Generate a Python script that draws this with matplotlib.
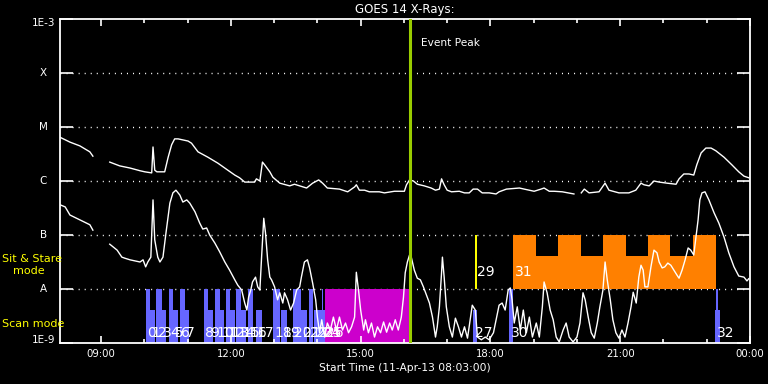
import numpy as np
import matplotlib
matplotlib.use('Agg')
import matplotlib.pyplot as plt

nan = np.nan

# GOES 14 long channel (1-8 A): clock hours on 11-Apr-13, log10 flux (W/m^2)
long_time = [8.05, 8.28, 8.51, 8.74, 8.81, nan,
             9.20, 9.43, 9.67, 9.90, 10.01, 10.17, 10.20, 10.24, 10.29, 10.47,
             10.55, 10.63, 10.70, 10.78, 11.01, 11.09, 11.24, 11.47, 11.70, 11.93,
             12.09, 12.20, 12.32, 12.43, 12.55, 12.59, 12.67, 12.73, 12.78, 12.90,
             12.97, 13.13, 13.36, 13.47, 13.59, 13.75, 13.89, 14.03, 14.12, 14.23,
             14.51, 14.70, 14.86, 14.90, 14.97, 15.09, 15.20, 15.43, 15.55, 15.78,
             15.90, 16.01, 16.06, 16.13, 16.22, 16.31, 16.47, 16.63, 16.73, 16.82,
             16.87, 16.93, 17.00, 17.10, 17.28, 17.40, 17.51, 17.60, 17.70, 17.81,
             17.97, 18.13, 18.20, 18.37, 18.67, 18.78, 19.01, 19.17, 19.24, 19.36,
             19.47, 19.66, 19.93, nan,
             20.10, 20.17, 20.28, 20.51, 20.65, 20.74, 20.97, 21.20, 21.36, 21.48,
             21.55, 21.67, 21.78, 21.90, 22.08, 22.29, 22.36, 22.47, 22.59, 22.70,
             22.77, 22.87, 22.98, 23.10, 23.21, 23.40, 23.58, 23.74, 23.86, 23.97]
long_logflux = [-5.19, -5.28, -5.35, -5.46, -5.54, nan,
                -5.65, -5.72, -5.76, -5.81, -5.83, -5.85, -5.37, -5.80, -5.83, -5.83,
                -5.56, -5.33, -5.22, -5.22, -5.26, -5.30, -5.46, -5.56, -5.67, -5.80,
                -5.89, -5.94, -6.02, -6.02, -6.02, -5.96, -6.00, -5.65, -5.70, -5.83,
                -5.93, -6.04, -6.09, -6.06, -6.09, -6.13, -6.04, -5.98, -6.04, -6.13,
                -6.15, -6.20, -6.11, -6.07, -6.17, -6.17, -6.20, -6.20, -6.22, -6.19,
                -6.19, -6.19, -6.07, -5.98, -6.00, -6.06, -6.09, -6.13, -6.17, -6.15,
                -5.96, -6.07, -6.17, -6.20, -6.19, -6.22, -6.22, -6.15, -6.15, -6.22,
                -6.22, -6.24, -6.20, -6.15, -6.13, -6.15, -6.19, -6.15, -6.13, -6.19,
                -6.19, -6.20, -6.24, nan,
                -6.22, -6.15, -6.22, -6.20, -6.04, -6.17, -6.22, -6.22, -6.17, -6.04,
                -6.07, -6.09, -6.00, -6.02, -6.04, -6.06, -5.96, -5.87, -5.87, -5.89,
                -5.70, -5.48, -5.39, -5.39, -5.44, -5.56, -5.70, -5.83, -5.91, -5.94]

# GOES 14 short channel (0.5-4 A)
short_time = [8.05, 8.17, 8.28, 8.51, 8.74, 8.81, nan,
              9.20, 9.37, 9.48, 9.55, 9.67, 9.78, 9.90, 9.97, 10.03, 10.08,
              10.15, 10.20, 10.24, 10.31, 10.36, 10.43, 10.50, 10.59, 10.66, 10.73,
              10.82, 10.89, 10.98, 11.05, 11.17, 11.28, 11.35, 11.44, 11.51, 11.63,
              11.74, 11.86, 11.97, 12.09, 12.16, 12.25, 12.32, 12.37, 12.41, 12.46,
              12.50, 12.57, 12.62, 12.67, 12.71, 12.76, 12.80, 12.85, 12.90, 12.94,
              13.01, 13.08, 13.13, 13.20, 13.24, 13.31, 13.38, 13.45, 13.52, 13.59,
              13.63, 13.70, 13.77, 13.82, 13.89, 13.96, 14.00, 14.05, 14.10, 14.17,
              14.23, 14.30, 14.37, 14.44, 14.51, 14.58, 14.65, 14.72, 14.79, 14.86,
              14.90, 14.95, 15.00, 15.07, 15.11, 15.18, 15.25, 15.32, 15.39, 15.46,
              15.53, 15.60, 15.67, 15.73, 15.80, 15.87, 15.94, 15.99, 16.03, 16.08,
              16.13, 16.17, 16.24, 16.31, 16.38, 16.45, 16.52, 16.59, 16.66, 16.73,
              16.77, 16.82, 16.87, 16.89, 16.93, 16.98, 17.05, 17.12, 17.19, 17.26,
              17.33, 17.40, 17.47, 17.54, 17.58, 17.65, 17.70, 17.79, 17.88, 17.97,
              18.07, 18.13, 18.20, 18.27, 18.34, 18.41, 18.46, 18.50, 18.55, 18.62,
              18.69, 18.76, 18.83, 18.90, 18.97, 19.06, 19.13, 19.20, 19.24, 19.31,
              19.38, 19.45, 19.52, 19.59, 19.68, 19.75, 19.82, 19.91, 20.00, 20.07,
              20.14, 20.19, 20.26, 20.33, 20.40, 20.47, 20.53, 20.60, 20.65, 20.70,
              20.77, 20.83, 20.90, 20.97, 21.04, 21.11, 21.18, 21.25, 21.30, 21.37,
              21.43, 21.48, 21.53, 21.57, 21.64, 21.71, 21.78, 21.85, 21.90, 21.97,
              22.03, 22.10, 22.17, 22.24, 22.31, 22.36, 22.43, 22.50, 22.57, 22.63,
              22.70, 22.75, 22.80, 22.84, 22.89, 22.96, 23.05, 23.17, 23.28, 23.40,
              23.51, 23.63, 23.74, 23.86, 23.93, 23.97]
short_logflux = [-6.44, -6.48, -6.63, -6.72, -6.81, -6.91, nan,
                 -7.17, -7.28, -7.41, -7.43, -7.46, -7.48, -7.50, -7.46, -7.59, -7.50,
                 -7.41, -6.35, -7.09, -7.41, -7.50, -7.41, -6.96, -6.41, -6.22, -6.17,
                 -6.26, -6.39, -6.35, -6.41, -6.57, -6.78, -6.89, -6.87, -7.00, -7.15,
                 -7.31, -7.50, -7.65, -7.83, -7.93, -8.02, -8.26, -8.39, -8.15, -8.02,
                 -7.87, -7.78, -7.96, -8.02, -7.41, -6.69, -6.96, -7.46, -7.78, -7.83,
                 -7.96, -8.20, -8.07, -8.26, -8.07, -8.20, -8.39, -8.26, -8.02, -7.96,
                 -7.78, -7.50, -7.46, -7.61, -7.89, -8.20, -8.52, -8.81, -8.57, -8.89,
                 -8.63, -8.76, -8.52, -8.76, -8.52, -8.76, -8.63, -8.81, -8.70, -8.52,
                 -7.69, -8.02, -8.39, -8.76, -8.57, -8.81, -8.63, -8.89, -8.70, -8.81,
                 -8.61, -8.80, -8.63, -8.76, -8.57, -8.76, -8.52, -8.15, -7.70, -7.50,
                 -7.37, -7.41, -7.65, -7.80, -7.83, -7.96, -8.11, -8.26, -8.52, -8.89,
                 -8.70, -8.33, -7.70, -7.41, -7.78, -8.33, -8.70, -8.89, -8.54, -8.70,
                 -8.89, -8.70, -8.91, -8.52, -8.30, -8.39, -8.89, -8.94, -8.89, -8.94,
                 -8.81, -8.57, -8.30, -8.26, -8.39, -8.02, -7.98, -8.20, -8.63, -8.33,
                 -8.76, -8.39, -8.81, -8.52, -8.89, -8.63, -8.89, -8.33, -7.87, -8.07,
                 -8.39, -8.57, -8.89, -8.98, -8.76, -8.63, -8.89, -8.98, -8.89, -8.63,
                 -8.07, -8.20, -8.52, -8.81, -8.91, -8.63, -8.33, -8.02, -7.50, -7.83,
                 -8.20, -8.57, -8.81, -8.91, -8.76, -8.89, -8.63, -8.33, -8.06, -8.26,
                 -7.78, -7.56, -7.65, -7.96, -7.96, -7.59, -7.28, -7.33, -7.50, -7.61,
                 -7.59, -7.52, -7.56, -7.65, -7.74, -7.80, -7.65, -7.46, -7.24, -7.28,
                 -7.37, -7.04, -6.72, -6.35, -6.22, -6.20, -6.35, -6.59, -6.78, -7.04,
                 -7.33, -7.59, -7.76, -7.78, -7.85, -7.81]

# IRIS observations: number, start, end (clock hours), mode, full-height flag
obs_num = [0, 1, 2, 3, 4, 5, 6, 7,
           8, 9, 10, 11, 12, 13, 14, 15, 16, 17, 18, 19, 20, 21, 22, 23, 24, 25,
           26, 27, 29, 30,
           31, 31, 31, 31, 31, 31, 31, 31, 31,
           32, 32]
obs_start = [10.03, 10.14, 10.28, 10.40, 10.57, 10.67, 10.82, 10.93,
             11.37, 11.48, 11.63, 11.74, 11.88, 11.97, 12.12, 12.23, 12.39, 12.57,
             12.97, 13.15, 13.43, 13.63, 13.80, 13.93, 14.10, 14.13,
             14.17, 17.60, 17.65, 18.44,
             18.53, 19.06, 19.57, 20.10, 20.60, 21.14, 21.64, 22.15, 22.68,
             23.21, 23.19]
obs_end = [10.14, 10.24, 10.40, 10.50, 10.67, 10.78, 10.93, 11.03,
           11.48, 11.58, 11.74, 11.85, 11.97, 12.09, 12.23, 12.34, 12.50, 12.71,
           13.13, 13.29, 13.63, 13.75, 13.89, 14.10, 14.13, 14.17,
           16.13, 17.68, 17.70, 18.53,
           19.06, 19.57, 20.10, 20.60, 21.14, 21.64, 22.15, 22.68, 23.21,
           23.25, 23.30]
obs_mode = ['scan'] * 26 + ['scan', 'scan', 'stare', 'scan'] + ['stare'] * 9 + ['scan', 'scan']
obs_full = [True, False] * 13 + [True, False, True, True] + \
           [True, False, True, False, True, False, True, False, True] + [True, False]

event_peak = 16.14
goes_levels = [1e-9, 1e-8, 1e-7, 1e-6, 1e-5, 1e-4, 1e-3]
goes_names = ['1E-9', 'A', 'B', 'C', 'M', 'X', '1E-3']
hour_ticks = [9, 12, 15, 18, 21, 24]
hour_labels = ['09:00', '12:00', '15:00', '18:00', '21:00', '00:00']

obs_colors = {26: '#cc00cc', 29: '#ffff00', 31: '#ff8000'}
scan_blue = '#6666ff'

fig = plt.figure(figsize=(7.68, 3.84), dpi=100, facecolor='black')
ax = fig.add_axes([60 / 768, 41 / 384, 690 / 768, 324 / 384])
ax.set_facecolor('black')
ax.set_yscale('log')
ax.set_xlim(8.05, 24.0)
ax.set_ylim(1e-9, 1e-3)

# dotted level lines
for lvl in goes_levels[1:-1]:
    ax.axhline(lvl, color='white', lw=1.0, ls=(0, (0.75, 3.6)), zorder=0.5)

# observation blocks
labelled = set()
for n, s, e, mode, full in zip(obs_num, obs_start, obs_end, obs_mode, obs_full):
    lo = 1e-9 if mode == 'scan' else 1e-8
    hi = lo * 10 if full else lo * 10 ** 0.61
    ax.bar(s, hi - lo, width=e - s, bottom=lo, align='edge',
           color=obs_colors.get(n, scan_blue), linewidth=0, zorder=1)
    if n not in labelled:
        labelled.add(n)
        ylab = 10 ** -8.81 if mode == 'scan' else 10 ** -7.69
        ax.annotate(str(n), xy=(s, ylab), xytext=(1, 0), textcoords='offset points',
                    color='white', fontsize=10, ha='left', va='center', zorder=5)

ax.plot(long_time, 10 ** np.array(long_logflux), color='white', lw=1.0, zorder=3)
ax.plot(short_time, 10 ** np.array(short_logflux), color='white', lw=1.0, zorder=3)

ax.axvline(event_peak, color='#99cc00', lw=2.2, zorder=4)
ax.annotate('Event Peak', xy=(event_peak, 1e-3), xytext=(8, -17.5),
            textcoords='offset points', color='white', fontsize=7.6,
            ha='left', va='center')

for sp in ax.spines.values():
    sp.set_color('white')
    sp.set_linewidth(1.3)

ax.set_xticks(hour_ticks)
ax.set_xticklabels(hour_labels)
ax.set_xticks(range(9, 24), minor=True)
ax.tick_params(axis='x', which='major', direction='in', length=5, width=1.2,
               colors='white', top=True, labelsize=7.3, pad=4.5)
ax.tick_params(axis='x', which='minor', direction='in', length=2.7, width=1.2,
               colors='white', top=True)
ax.yaxis.set_minor_locator(matplotlib.ticker.NullLocator())
ax.set_yticks(goes_levels)
ax.set_yticklabels([])
ax.tick_params(axis='y', which='major', direction='in', length=9.4, width=1.2,
               colors='white', left=True, right=True)

shifts = [2.2, 0, 0, 0, 0, 0, -2.9]
for lvl, name, dy in zip(goes_levels, goes_names, shifts):
    ax.annotate(name, xy=(0, lvl), xycoords=('axes fraction', 'data'),
                xytext=(-12, dy), textcoords='offset points', color='white',
                fontsize=7.5, ha='center', va='center')

fig.text(405 / 768, 1 - 9 / 384, 'GOES 14 X-Rays:', color='white', fontsize=8.5,
         ha='center', va='center')
fig.text(405 / 768, 1 - 368 / 384, 'Start Time (11-Apr-13 08:03:00)', color='white',
         fontsize=7.7, ha='center', va='center')
fig.text(2 / 768, 1 - 259 / 384, 'Sit & Stare', color='yellow', fontsize=8,
         ha='left', va='center')
fig.text(13 / 768, 1 - 271 / 384, 'mode', color='yellow', fontsize=8,
         ha='left', va='center')
fig.text(2 / 768, 1 - 324 / 384, 'Scan mode', color='yellow', fontsize=8,
         ha='left', va='center')

fig.savefig('out.png', dpi=100, facecolor='black')
